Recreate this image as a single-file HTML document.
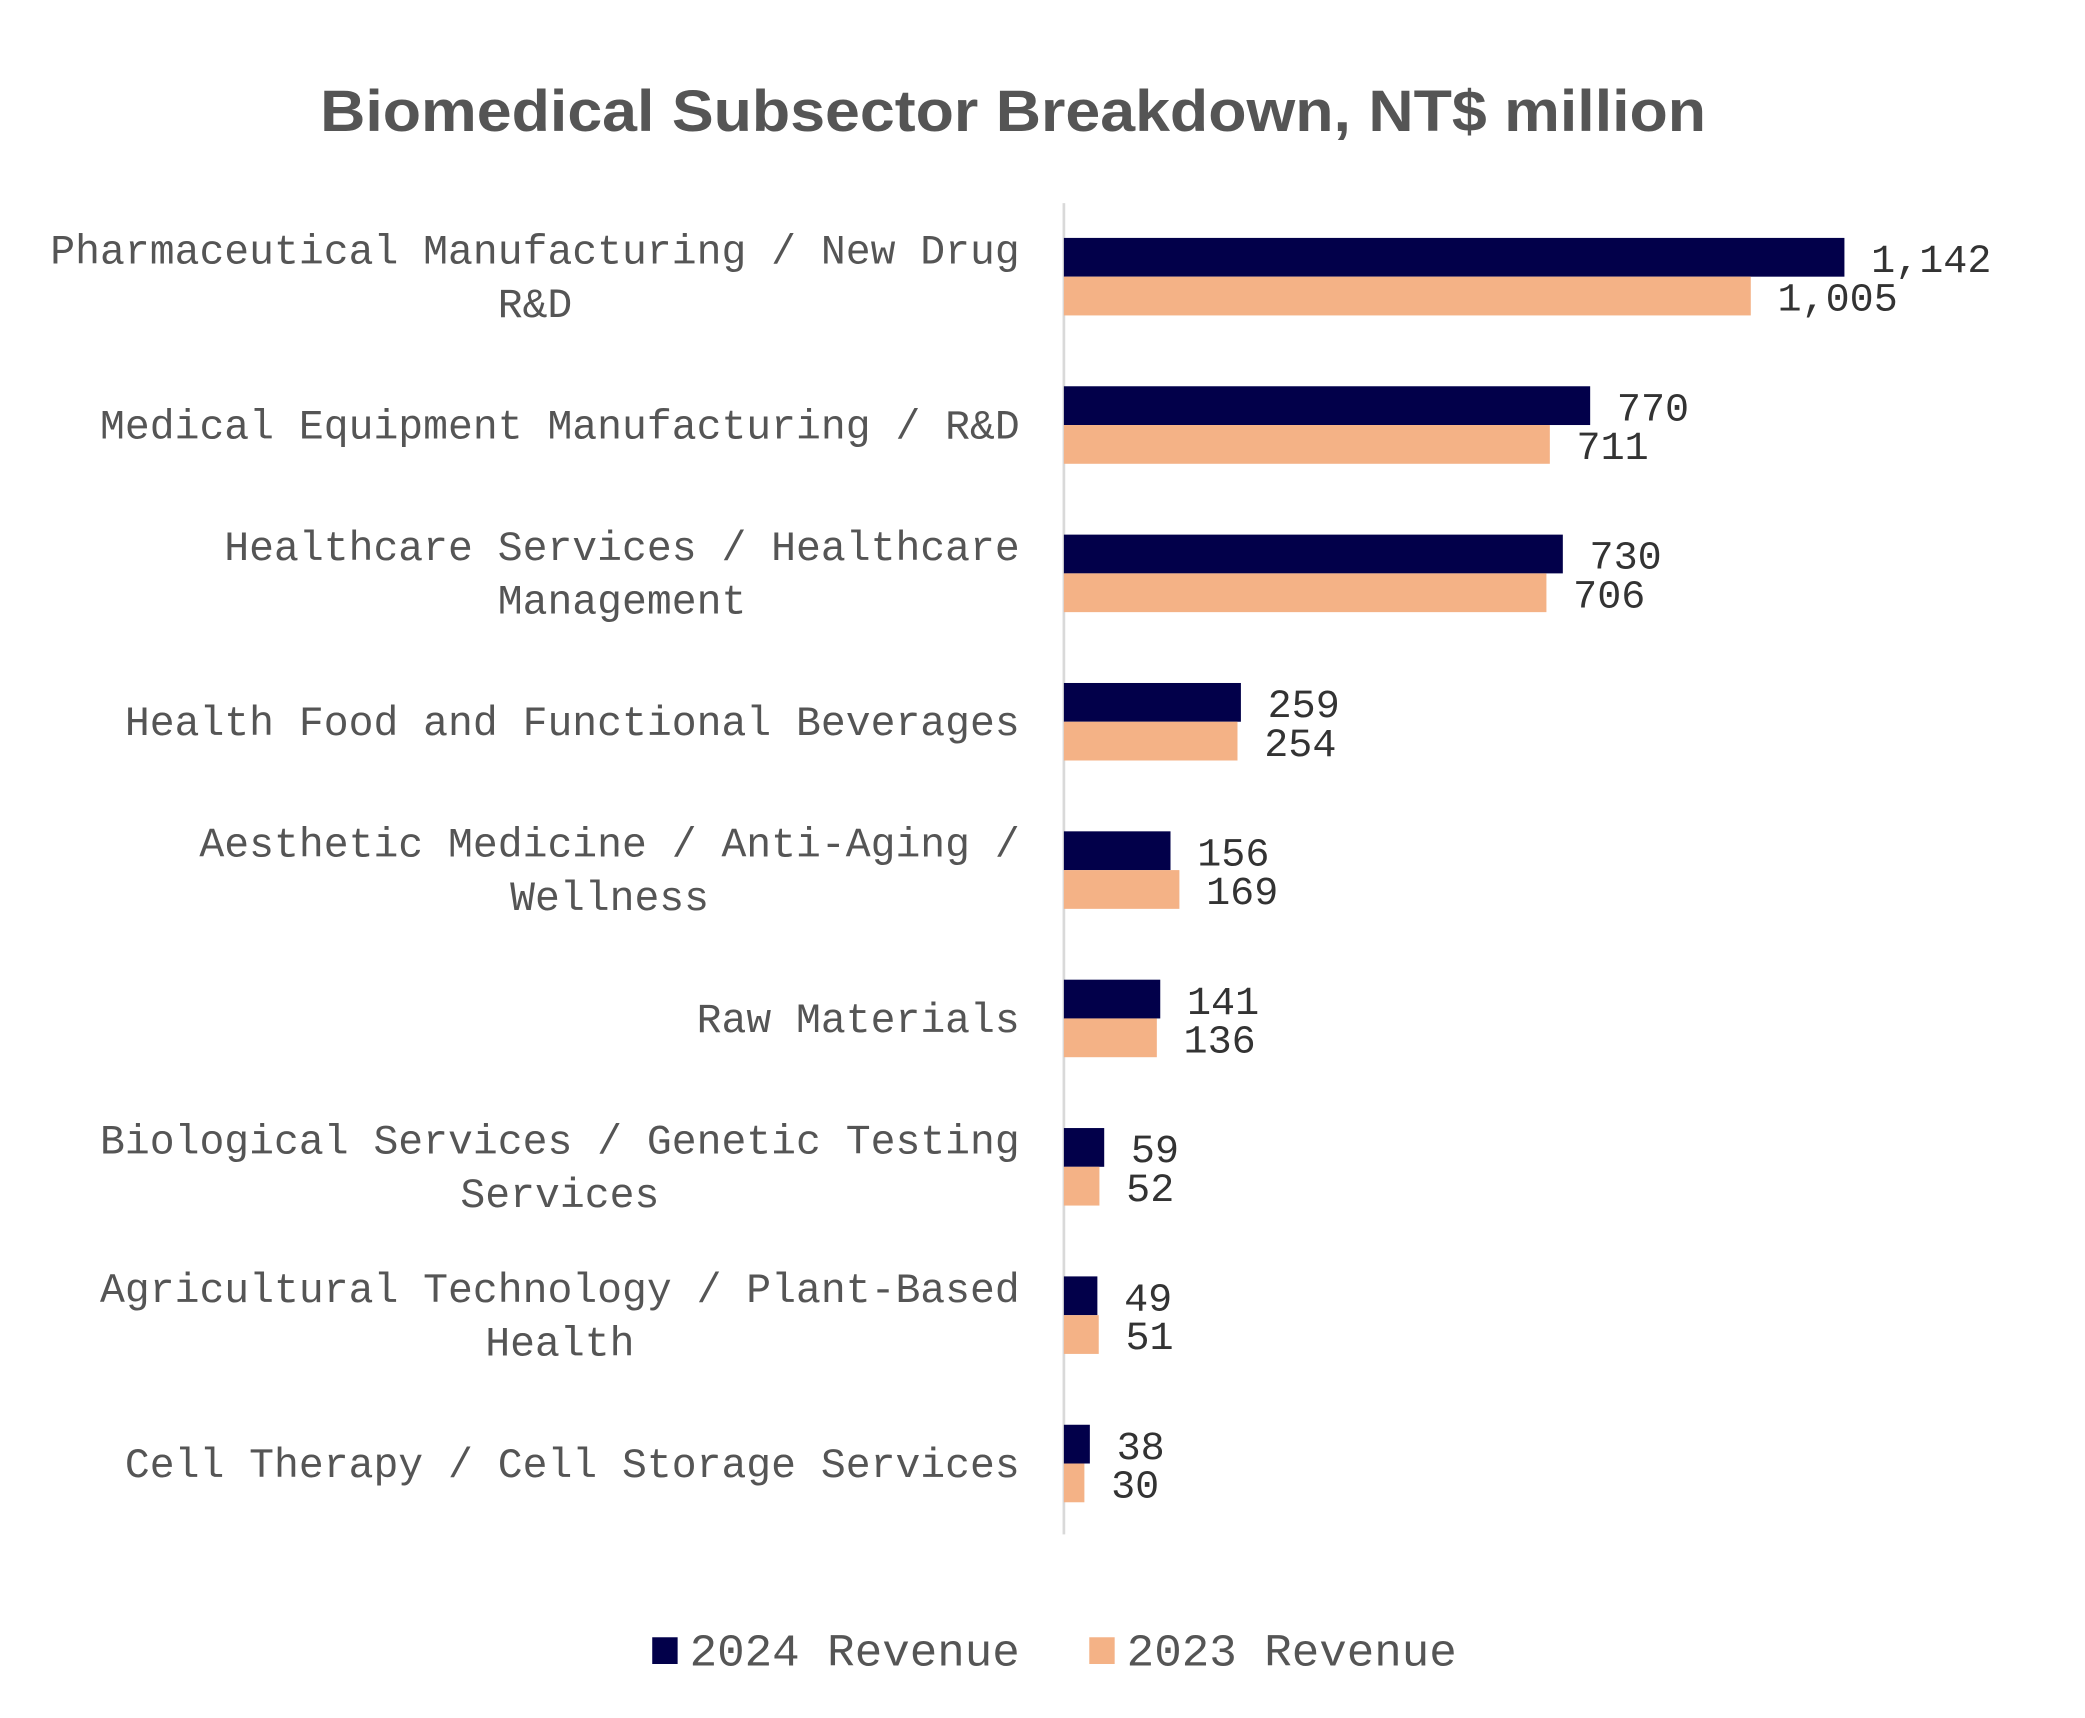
<!DOCTYPE html>
<html><head><meta charset="utf-8"><style>html,body{margin:0;padding:0;background:#fff}svg{display:block}</style></head>
<body>
<svg id="chart" width="2085" height="1718" viewBox="0 0 1560 1285.4" xmlns="http://www.w3.org/2000/svg">
<rect width="1560" height="1285.4" fill="#fff"/>
<text x="758" y="98" text-anchor="middle" font-family="Liberation Sans, sans-serif" font-weight="bold" font-size="44" fill="#555" textLength="1037" lengthAdjust="spacingAndGlyphs">Biomedical Subsector Breakdown, NT$ million</text>
<line x1="796" y1="152" x2="796" y2="1148" stroke="#d9d9d9" stroke-width="2"/>
<g id="bars"></g>
<g id="labels"></g>
<g>
<rect x="488" y="1225" width="19" height="20" fill="#02004A"/>
<text x="516" y="1246" font-family="Liberation Mono, monospace" font-size="34" fill="#555" textLength="247" lengthAdjust="spacingAndGlyphs">2024 Revenue</text>
<rect x="815" y="1225" width="19" height="20" fill="#F4B286"/>
<text x="843" y="1246" font-family="Liberation Mono, monospace" font-size="34" fill="#555" textLength="247" lengthAdjust="spacingAndGlyphs">2023 Revenue</text>
</g>
</svg>
<script>
const categories = [
  ["Pharmaceutical Manufacturing / New Drug","R&D"],
  ["Medical Equipment Manufacturing / R&D"],
  ["Healthcare Services / Healthcare","Management"],
  ["Health Food and Functional Beverages"],
  ["Aesthetic Medicine / Anti-Aging /","Wellness"],
  ["Raw Materials"],
  ["Biological Services / Genetic Testing","Services"],
  ["Agricultural Technology / Plant-Based","Health"],
  ["Cell Therapy / Cell Storage Services"]
];
const revenue2024 = [1142, 770, 730, 259, 156, 141, 59, 49, 38];
const revenue2023 = [1005, 711, 706, 254, 169, 136, 52, 51, 30];

const NS = "http://www.w3.org/2000/svg";
const x0 = 796, pxPerUnit = (1380 - 796) / 1142;
const xScale = v => x0 + v * pxPerUnit;
const yCenter = i => 207 + i * 111;
const barH = 29;
const fs = 31, charW = fs * 0.6;
const barsG = document.getElementById('bars');
const labelsG = document.getElementById('labels');
function mk(tag, attrs, parent){ const e=document.createElementNS(NS,tag); for(const k in attrs) e.setAttribute(k,attrs[k]); parent.appendChild(e); return e; }
function fmt(v){ return v.toLocaleString('en-US'); }

categories.forEach((lines, i) => {
  const yc = yCenter(i);
  [[revenue2024, '#02004A', yc - barH, '2024'], [revenue2023, '#F4B286', yc, '2023']].forEach(([arr, col, y, yr]) => {
    const r = mk('rect', {x: x0, y: y, width: xScale(arr[i]) - x0, height: barH, fill: col}, barsG);
    
    
    const t = mk('text', {x: xScale(arr[i]) + 20, y: y + barH/2 + 11, 'font-family': 'Liberation Mono, monospace', 'font-size': 30, fill: '#333'}, barsG);
    t.textContent = fmt(arr[i]);
    
    
  });
  const right = 763;
  const w1 = lines[0].length * charW;
  const center = right - w1 / 2;
  lines.forEach((ln, j) => {
    const yy = lines.length === 1 ? yc : yc - 20 + j * 40;
    const t = mk('text', {x: center, y: yy + 10, 'text-anchor': 'middle', 'font-family': 'Liberation Mono, monospace', 'font-size': fs, fill: '#555'}, labelsG);
    t.textContent = ln;
    
    
  });
});
</script>
</body></html>
